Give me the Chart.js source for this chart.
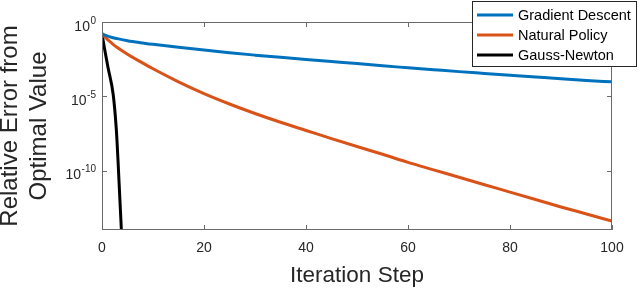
<!DOCTYPE html>
<html>
<head>
<meta charset="utf-8">
<script src="https://cdn.jsdelivr.net/npm/chart.js@4/dist/chart.umd.min.js"></script>
<style>
  html, body { margin: 0; padding: 0; background: #fff; }
  #wrap { width: 640px; height: 289px; }
</style>
</head>
<body>
<div id="wrap"><canvas id="errChart" width="640" height="289"></canvas></div>
<script>
const steps = [0, 1, 2, 3, 5, 7.5, 10, 15, 20, 25, 30, 35, 40, 45, 50, 55, 60, 65, 70, 75, 80, 85, 90, 95, 100];
// log10 of relative error
const gradExp = [-0.8, -0.93, -1.04, -1.12, -1.26, -1.39, -1.5, -1.7, -1.89, -2.07, -2.23, -2.38, -2.52,
                 -2.66, -2.8, -2.95, -3.08, -3.21, -3.34, -3.46, -3.58, -3.7, -3.82, -3.93, -4.03];
const natExp = [-0.78, -1.15, -1.45, -1.72, -2.17, -2.67, -3.15, -4.03, -4.82, -5.52, -6.16, -6.75, -7.3,
                -7.85, -8.38, -8.9, -9.45, -9.95, -10.45, -10.95, -11.45, -11.95, -12.45, -12.92, -13.4];
// gauss-newton falls off very fast
const gnSteps = [0, 0.5, 1.2, 2.2, 2.8, 3.15, 3.5, 3.8, 4.1];
const gnExp = [-0.78, -1.8, -3.1, -4.9, -7.2, -9.4, -11.9, -14.0, -16.2];

const seriesNames = ['Gradient Descent', 'Natural Policy', 'Gauss-Newton'];
const seriesColors = ['#0072BD', '#D95319', '#000000'];
const xTicks = [0, 20, 40, 60, 80, 100];
const yTicks = [1, 1e-5, 1e-10];
const yTickExp = ['0', '-5', '-10'];

const FONT = "'Liberation Sans', Arial, Helvetica, sans-serif";
const AXIS_COL = '#6a6a6a';
const TEXT_COL = '#262626';

function toPoints(xs, es) {
  return xs.map((x, i) => ({ x: x, y: Math.pow(10, es[i]) }));
}

// frame, inward ticks, y labels with exponents, legend box
const matlabAxes = {
  id: 'matlabAxes',
  afterDraw(chart) {
    const ctx = chart.ctx;
    const a = chart.chartArea;
    const xs = chart.scales.x, ys = chart.scales.y;
    ctx.save();
    ctx.strokeStyle = AXIS_COL;
    ctx.lineWidth = 1;
    ctx.strokeRect(a.left + 0.5, a.top + 0.5, a.right - a.left - 1, a.bottom - a.top - 1);
    ctx.beginPath();
    xTicks.forEach(v => {
      const px = Math.round(xs.getPixelForValue(v)) + 0.5;
      ctx.moveTo(px, a.bottom); ctx.lineTo(px, a.bottom - 5);
      ctx.moveTo(px, a.top); ctx.lineTo(px, a.top + 5);
    });
    yTicks.forEach(v => {
      const py = Math.round(ys.getPixelForValue(v)) + 0.5;
      ctx.moveTo(a.left, py); ctx.lineTo(a.left + 5, py);
      ctx.moveTo(a.right, py); ctx.lineTo(a.right - 5, py);
    });
    ctx.stroke();

    // y tick labels 10^k
    ctx.fillStyle = TEXT_COL;
    ctx.textBaseline = 'middle';
    ctx.textAlign = 'right';
    yTicks.forEach((v, i) => {
      const py = ys.getPixelForValue(v);
      ctx.font = '10px ' + FONT;
      const ew = ctx.measureText(yTickExp[i]).width;
      ctx.fillText(yTickExp[i], 96, py - 1);
      ctx.font = '14px ' + FONT;
      ctx.fillText('10', 96 - ew - 0.5, py + 5);
    });

    // legend
    const lx = 472.5, ly = 1.5, lw = 164, lh = 65;
    ctx.fillStyle = '#fff';
    ctx.fillRect(lx, ly, lw, lh);
    ctx.strokeStyle = '#262626';
    ctx.strokeRect(lx, ly, lw, lh);
    ctx.font = '14.5px ' + FONT;
    ctx.textAlign = 'left';
    const rows = [15, 35, 55];
    chart.data.datasets.forEach((ds, i) => {
      ctx.strokeStyle = ds.borderColor;
      ctx.lineWidth = 3;
      ctx.beginPath();
      ctx.moveTo(477, rows[i]); ctx.lineTo(513, rows[i]);
      ctx.stroke();
      ctx.fillStyle = '#000';
      ctx.fillText(ds.label, 518, rows[i] + 0.5);
    });
    ctx.restore();
  }
};

const ctx = document.getElementById('errChart');
const errChart = new Chart(ctx, {
  type: 'line',
  data: {
    datasets: [
      { label: seriesNames[0], data: toPoints(steps, gradExp), borderColor: seriesColors[0] },
      { label: seriesNames[1], data: toPoints(steps, natExp), borderColor: seriesColors[1] },
      { label: seriesNames[2], data: toPoints(gnSteps, gnExp), borderColor: seriesColors[2] }
    ]
  },
  options: {
    responsive: false,
    animation: false,
    layout: { padding: { left: 0, top: 22, right: 28, bottom: 0 } },
    elements: {
      point: { radius: 0 },
      line: { borderWidth: 3, cubicInterpolationMode: 'monotone' }
    },
    plugins: { legend: { display: false }, tooltip: { enabled: false } },
    scales: {
      x: {
        type: 'linear', min: 0, max: 100,
        grid: { display: false },
        border: { display: false },
        afterBuildTicks: s => { s.ticks = xTicks.map(v => ({ value: v })); },
        afterFit: s => { s.height = 59; },
        ticks: { color: TEXT_COL, font: { family: FONT, size: 14 }, padding: 2, maxRotation: 0 },
        title: {
          display: true, text: 'Iteration Step', color: TEXT_COL,
          font: { family: FONT, size: 22.5, lineHeight: 1.2 },
          padding: { top: 0, bottom: 0 }
        }
      },
      y: {
        type: 'logarithmic', min: 1e-14, max: 1,
        grid: { display: false },
        border: { display: false },
        afterBuildTicks: s => { s.ticks = yTicks.map(v => ({ value: v })); },
        afterFit: s => { s.width = 102; },
        ticks: { display: false },
        title: {
          display: true, text: ['Relative Error from', 'Optimal Value'], color: TEXT_COL,
          font: { family: FONT, size: 24, lineHeight: 1.2 },
          padding: { top: -4, bottom: 0 }
        }
      }
    }
  },
  plugins: [matlabAxes]
});
</script>
</body>
</html>
